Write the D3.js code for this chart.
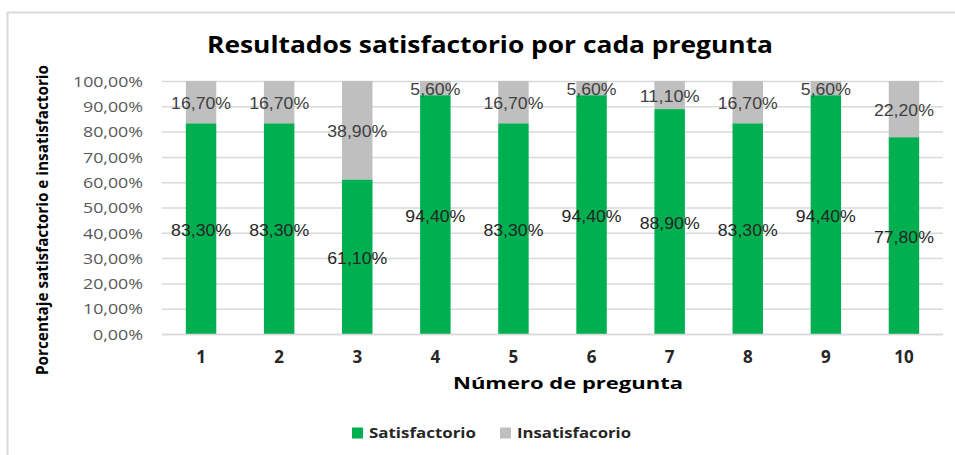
<!DOCTYPE html>
<html>
<head>
<meta charset="utf-8">
<script src="https://cdn.jsdelivr.net/npm/d3@7"></script>
<style>
body { margin: 0; background: #fff; }
svg text { font-family: "Liberation Sans", Arial, sans-serif; }
.bold { font-family: "Open Sans", "Liberation Sans", sans-serif; font-weight: bold; }
</style>
</head>
<body>
<svg id="chart" width="955" height="455"></svg>
<script>
// datos del grafico
var preguntas = ["1", "2", "3", "4", "5", "6", "7", "8", "9", "10"];
var satisfactorio = [83.3, 83.3, 61.1, 94.4, 83.3, 94.4, 88.9, 83.3, 94.4, 77.8];
var insatisfactorio = [16.7, 16.7, 38.9, 5.6, 16.7, 5.6, 11.1, 16.7, 5.6, 22.2];
var yticks = [0, 10, 20, 30, 40, 50, 60, 70, 80, 90, 100];
var series = ["Satisfactorio", "Insatisfacorio"];
var colores = ["#00b050", "#bfbfbf"];

var svg = d3.select("#chart");
var mleft = 162, mright = 943, mtop = 81, mbottom = 334;

var fmt = function(v) { return v.toFixed(2).replace(".", ",") + "%"; };
// el texto del original esta un poco estirado a lo ancho
var ancho = function(t) { return t.length * 10; };

// marco
svg.append("path")
	.attr("d", "M7.5,455 L7.5,12.5 L955,12.5")
	.style("fill", "none").style("stroke", "#d9d9d9").style("stroke-width", 2);

var x = d3.scaleBand().domain(preguntas).range([mleft, mright]).paddingInner(0.61).paddingOuter(0.305);
var y = d3.scaleLinear().domain([0, 100]).range([mbottom, mtop]);

// lineas de cuadricula
svg.append("g").selectAll("line").data(yticks).join("line")
	.attr("x1", mleft).attr("x2", mright)
	.attr("y1", function(d) { return y(d) + 0.5; })
	.attr("y2", function(d) { return y(d) + 0.5; })
	.style("stroke", "#d9d9d9").style("stroke-width", 1.5);

// eje y
var yaxis = svg.append("g").attr("transform", "translate(" + (mleft - 19) + ",0)")
	.call(d3.axisLeft(y).tickValues(yticks).tickSize(0).tickPadding(0).tickFormat(fmt));
yaxis.select(".domain").remove();
yaxis.selectAll("text").style("font-size", "15px").style("fill", "#595959")
	.style("font-family", "'Open Sans', sans-serif").attr("dy", "0.35em")
	.attr("textLength", function(d) { return ancho(fmt(d)); }).attr("lengthAdjust", "spacingAndGlyphs");

// barras apiladas
var datos = preguntas.map(function(p, i) { return {p: p, s: satisfactorio[i], n: insatisfactorio[i]}; });

svg.append("g").selectAll("rect").data(datos).join("rect")
	.attr("x", function(d) { return x(d.p); })
	.attr("width", x.bandwidth())
	.attr("y", function(d) { return y(d.s); })
	.attr("height", function(d) { return y(0) - y(d.s); })
	.style("fill", colores[0]);
svg.append("g").selectAll("rect").data(datos).join("rect")
	.attr("x", function(d) { return x(d.p); })
	.attr("width", x.bandwidth())
	.attr("y", function(d) { return y(d.s + d.n); })
	.attr("height", function(d) { return y(d.s) - y(d.s + d.n); })
	.style("fill", colores[1]);

// linea base
svg.append("line").attr("x1", mleft).attr("x2", mright).attr("y1", y(0) + 0.5).attr("y2", y(0) + 0.5)
	.style("stroke", "#d9d9d9").style("stroke-width", 1.5);

// etiquetas de datos
svg.append("g").selectAll("text").data(datos).join("text")
	.attr("x", function(d) { return x(d.p) + x.bandwidth() / 2; })
	.attr("y", function(d) { return (y(0) + y(d.s)) / 2 + 2; })
	.attr("dy", "0.35em").attr("text-anchor", "middle")
	.attr("textLength", function(d) { return ancho(fmt(d.s)); }).attr("lengthAdjust", "spacingAndGlyphs")
	.style("font-size", "16px").style("fill", "#262626")
	.text(function(d) { return fmt(d.s); });
svg.append("g").selectAll("text").data(datos).join("text")
	.attr("x", function(d) { return x(d.p) + x.bandwidth() / 2; })
	.attr("y", function(d) { return (y(d.s) + y(d.s + d.n)) / 2 + 1; })
	.attr("dy", "0.35em").attr("text-anchor", "middle")
	.attr("textLength", function(d) { return ancho(fmt(d.n)); }).attr("lengthAdjust", "spacingAndGlyphs")
	.style("font-size", "16px").style("fill", "#404040")
	.text(function(d) { return fmt(d.n); });

// eje x
svg.append("g").selectAll("text").data(preguntas).join("text")
	.attr("class", "bold")
	.attr("x", function(d) { return x(d) + x.bandwidth() / 2; })
	.attr("y", 357).attr("dy", "0.35em").attr("text-anchor", "middle")
	.style("font-size", "17px").style("fill", "#262626")
	.text(function(d) { return d; });

// titulos
svg.append("text").attr("class", "bold")
	.attr("x", 490).attr("y", 45).attr("dy", "0.35em").attr("text-anchor", "middle")
	.attr("textLength", 566).attr("lengthAdjust", "spacingAndGlyphs")
	.style("font-size", "24px").style("fill", "#000")
	.text("Resultados satisfactorio por cada pregunta");
svg.append("text").attr("class", "bold")
	.attr("x", 568).attr("y", 383).attr("dy", "0.35em").attr("text-anchor", "middle")
	.attr("textLength", 230).attr("lengthAdjust", "spacingAndGlyphs")
	.style("font-size", "16px").style("fill", "#000")
	.text("Número de pregunta");
svg.append("text").attr("class", "bold")
	.attr("transform", "translate(42,220) rotate(-90)")
	.attr("dy", "0.35em").attr("text-anchor", "middle")
	.attr("textLength", 310).attr("lengthAdjust", "spacingAndGlyphs")
	.style("font-size", "16px").style("fill", "#000")
	.text("Porcentaje satisfactorio e insatisfactorio");

// leyenda
var legx = [352, 500];
var legw = [107, 114];
var leg = svg.append("g").selectAll("g").data(series).join("g")
	.attr("transform", function(d, i) { return "translate(" + legx[i] + ",433)"; });
leg.append("rect").attr("x", 0).attr("y", -5.5).attr("width", 11).attr("height", 11)
	.style("fill", function(d, i) { return colores[i]; });
leg.append("text").attr("class", "bold")
	.attr("x", 17).attr("dy", "0.35em")
	.attr("textLength", function(d, i) { return legw[i]; }).attr("lengthAdjust", "spacingAndGlyphs")
	.style("font-size", "15px").style("fill", "#262626")
	.text(function(d) { return d; });
</script>
</body>
</html>
